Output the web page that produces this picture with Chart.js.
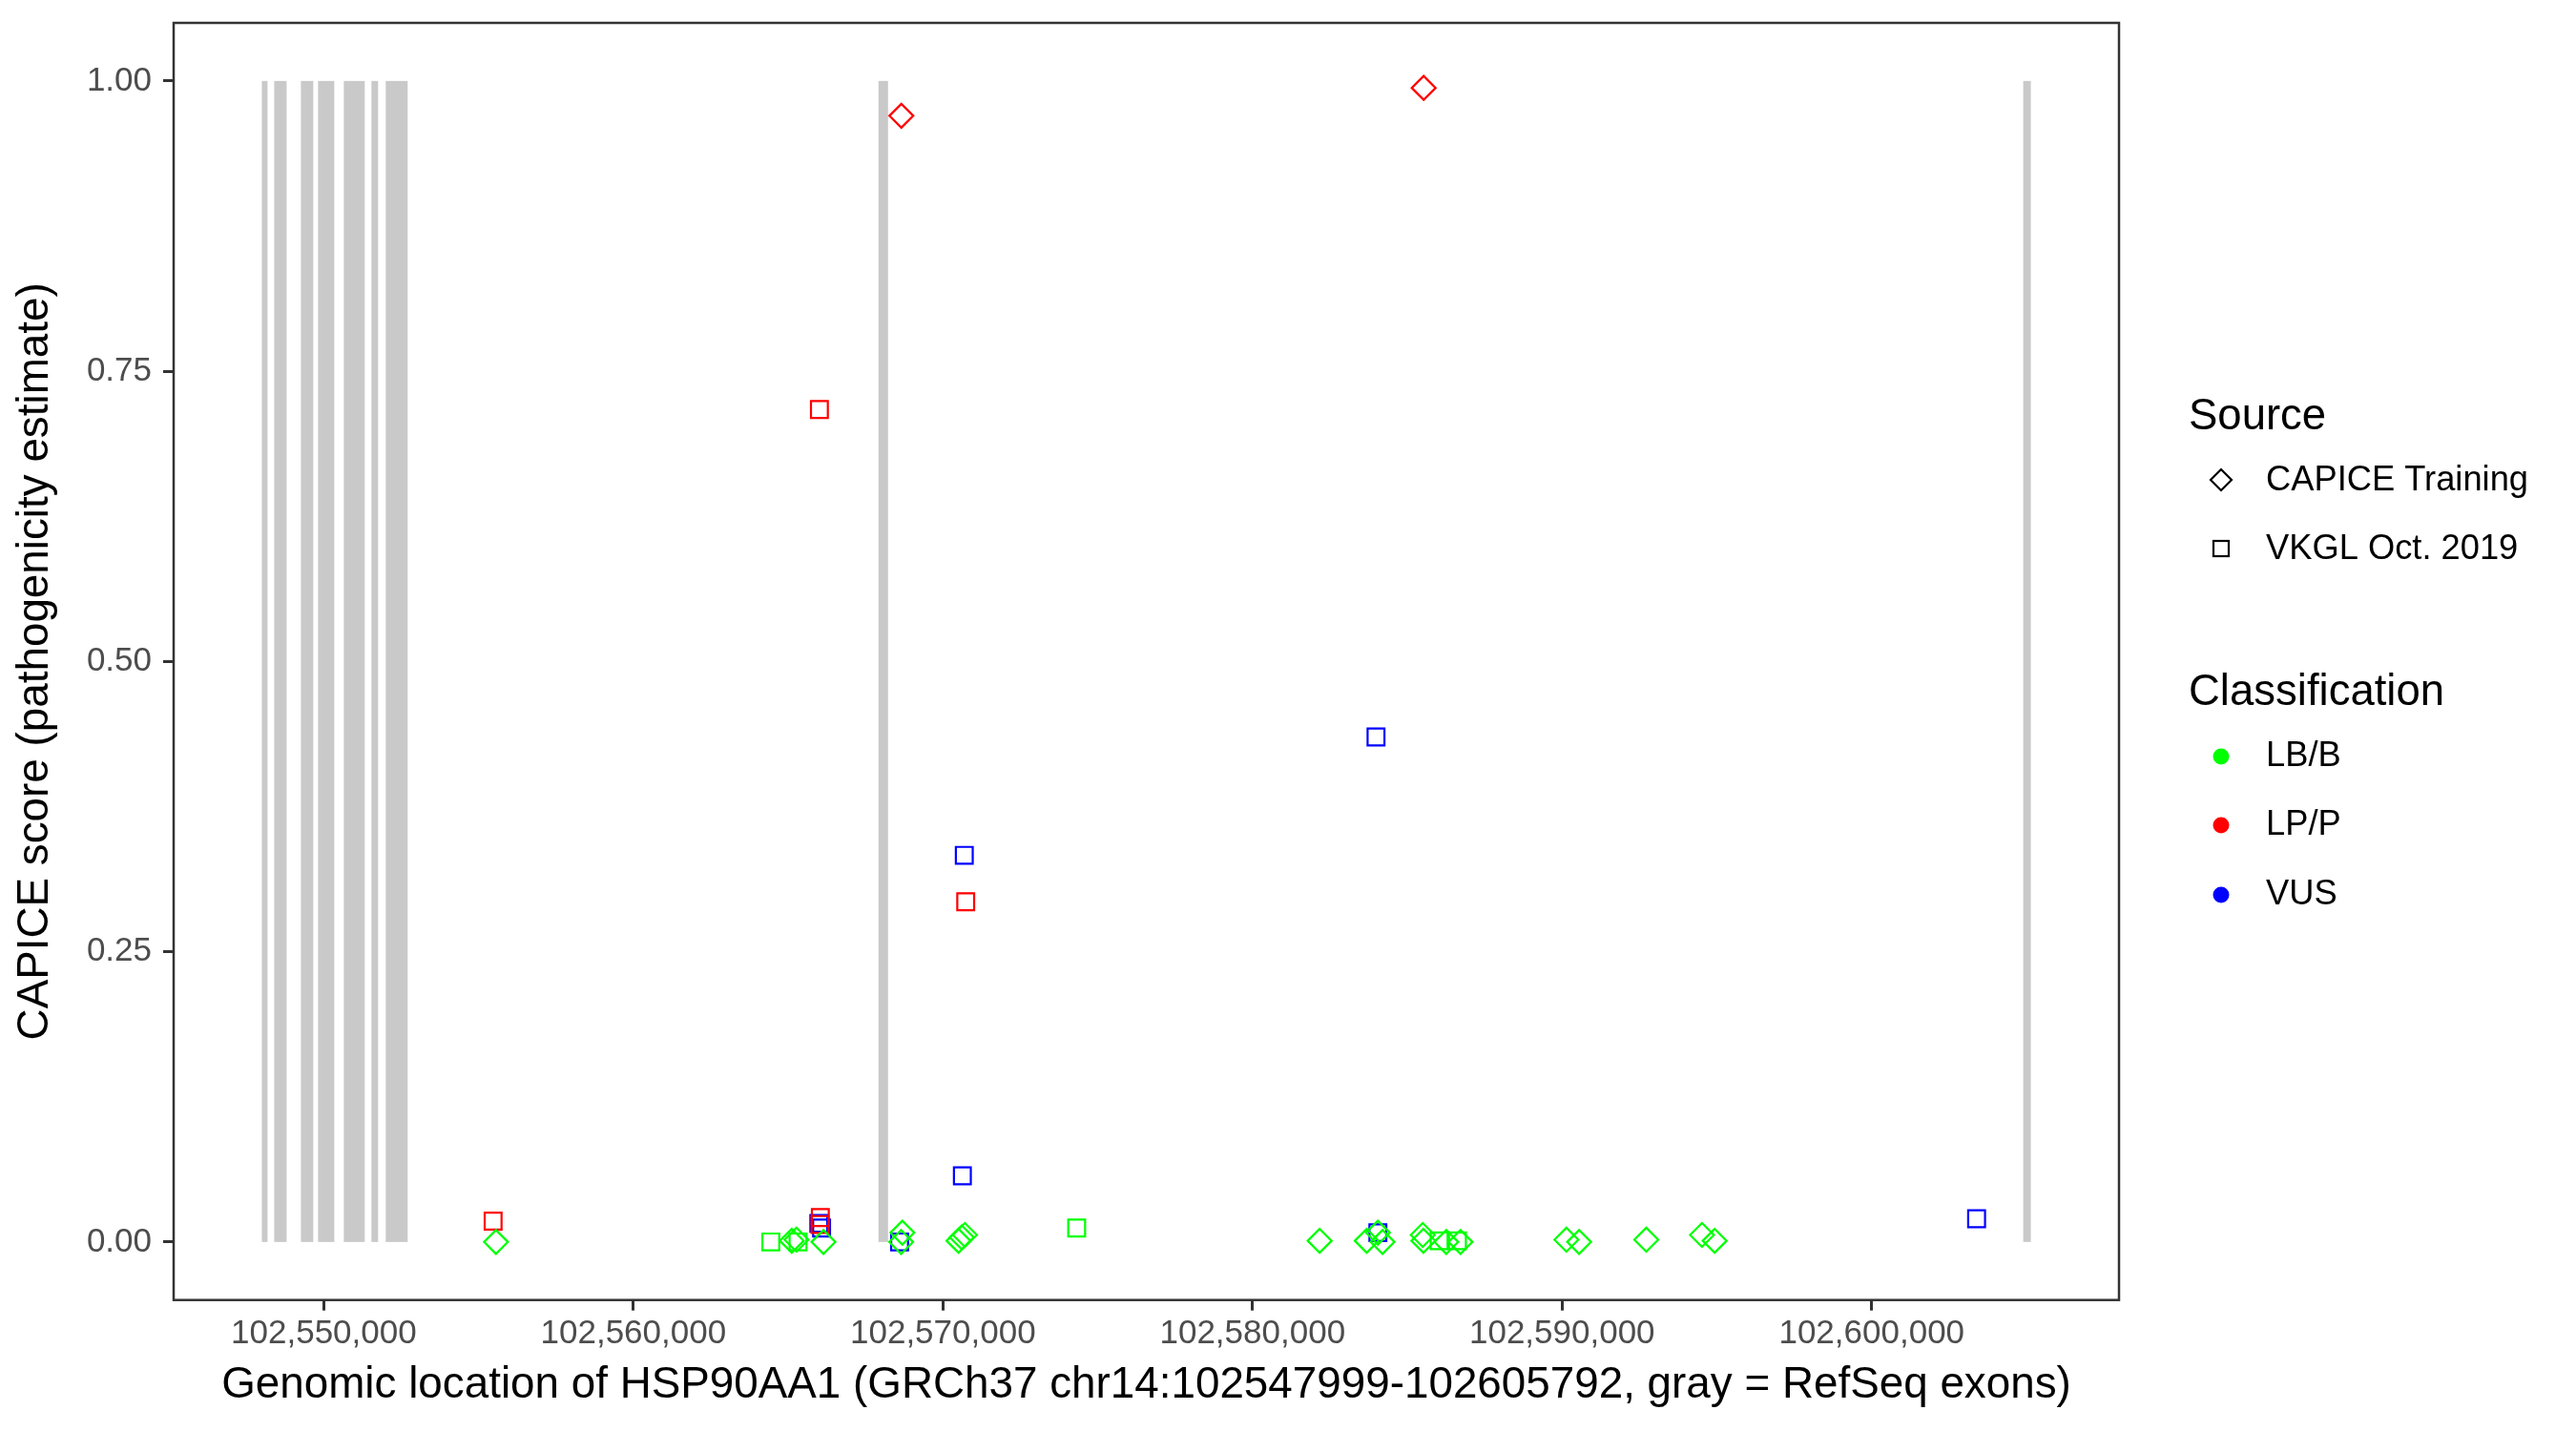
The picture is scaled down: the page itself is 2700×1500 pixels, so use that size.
<!DOCTYPE html>
<html>
<head>
<meta charset="utf-8">
<script src="https://cdn.jsdelivr.net/npm/chart.js@4.4.1/dist/chart.umd.min.js"></script>
<style>
  html, body { margin: 0; padding: 0; background: #fff; }
  #wrap { width: 2700px; height: 1500px; }
</style>
</head>
<body>
<div id="wrap"><canvas id="capiceChart" width="2700" height="1500"></canvas></div>
<script>
const ctxEl = document.getElementById("capiceChart");

// DATA

// RefSeq exons (gray bars)
const exonStarts = [102547999, 102548399, 102549261, 102549815, 102550647, 102551539, 102552001, 102567919, 102604896];
const exonEnds   = [102548183, 102548799, 102549661, 102550339, 102551324, 102551755, 102552709, 102568227, 102605142];

// variants: position, CAPICE score, source, classification
const variantPos = [
    102555470, 102555563, 102564440, 102565117, 102565270, 102565320, 102566140, 102566040,
    102566030, 102565990, 102566080, 102566010, 102568657, 102568690, 102568650, 102568600,
    102570505, 102570607, 102570711, 102570690, 102570736, 102570628, 102574320, 102582170,
    102583690, 102584050, 102584050, 102584200, 102583990, 102585530, 102585500, 102585520,
    102586030, 102586260, 102586620, 102586720, 102590140, 102590550, 102592720, 102594520,
    102594930, 102603390
];
const variantScore = [
    0.018, 0.000, 0.000, 0.001, 0.002, 0.000, 0.000, 0.021,
    0.015, 0.016, 0.012, 0.717, 0.970, 0.008, 0.000, 0.000,
    0.001, 0.004, 0.006, 0.333, 0.293, 0.057, 0.012, 0.001,
    0.001, 0.008, 0.008, 0.000, 0.435, 0.994, 0.006, 0.001,
    0.001, 0.000, 0.001, 0.000, 0.002, 0.000, 0.002, 0.006,
    0.001, 0.020
];
const variantSource = [
    'V', 'C', 'V', 'C', 'C', 'V', 'C', 'V',
    'V', 'V', 'V', 'V', 'C', 'C', 'C', 'V',
    'C', 'C', 'C', 'V', 'V', 'V', 'V', 'C',
    'C', 'V', 'C', 'C', 'V', 'C', 'C', 'C',
    'V', 'C', 'V', 'C', 'C', 'C', 'C', 'C',
    'C', 'V'
];
const variantClass = [
    'LP/P', 'LB/B', 'LB/B', 'LB/B', 'LB/B', 'LB/B', 'LB/B', 'LP/P',
    'LP/P', 'VUS', 'VUS', 'LP/P', 'LP/P', 'LB/B', 'LB/B', 'VUS',
    'LB/B', 'LB/B', 'LB/B', 'VUS', 'LP/P', 'VUS', 'LB/B', 'LB/B',
    'LB/B', 'VUS', 'LB/B', 'LB/B', 'VUS', 'LP/P', 'LB/B', 'LB/B',
    'LB/B', 'LB/B', 'LB/B', 'LB/B', 'LB/B', 'LB/B', 'LB/B', 'LB/B',
    'LB/B', 'VUS'
];

const sourceNames = { C: 'CAPICE Training', V: 'VKGL Oct. 2019' };
const sourceShapes = { C: 'rectRot', V: 'rect' };
const classNames = ['LB/B', 'LP/P', 'VUS'];
const classColors = { 'LB/B': '#00FF00', 'LP/P': '#FF0000', 'VUS': '#0000FF' };

const xTicks = [102550000, 102560000, 102570000, 102580000, 102590000, 102600000];
const yTicks = [0, 0.25, 0.5, 0.75, 1];

// one dataset per source x classification
const datasets = [];
['C', 'V'].forEach(src => {
    classNames.forEach(cls => {
        const pts = [];
        variantPos.forEach((p, i) => {
            if (variantSource[i] === src && variantClass[i] === cls) pts.push({ x: p, y: variantScore[i] });
        });
        if (!pts.length) return;
        datasets.push({
            label: sourceNames[src] + ' ' + cls,
            data: pts,
            pointStyle: sourceShapes[src],
            pointRadius: 12.5,
            pointBorderWidth: 2.2,
            borderColor: classColors[cls],
            backgroundColor: 'rgba(0,0,0,0)',
            pointBackgroundColor: 'rgba(0,0,0,0)',
        });
    });
});

const FONT = "'Liberation Sans', Arial, Helvetica, sans-serif";

// gray exon bars behind the points
const exonPlugin = {
    id: 'exons',
    beforeDatasetsDraw(chart) {
        const { ctx, scales: { x, y } } = chart;
        ctx.save();
        ctx.fillStyle = '#C9C9C9';
        const top = y.getPixelForValue(1);
        const bot = y.getPixelForValue(0);
        exonStarts.forEach((s, i) => {
            const x0 = x.getPixelForValue(s);
            const x1 = x.getPixelForValue(exonEnds[i]);
            ctx.fillRect(x0, top, Math.max(x1 - x0, 1), bot - top);
        });
        ctx.restore();
    }
};

// panel border + legend
const framePlugin = {
    id: 'frame',
    afterDraw(chart) {
        const { ctx, chartArea: a } = chart;
        ctx.save();
        ctx.strokeStyle = '#333333';
        ctx.lineWidth = 2.5;
        ctx.strokeRect(a.left, a.top, a.right - a.left, a.bottom - a.top);

        // legend
        const keyX = 2328, labelX = 2375;
        ctx.fillStyle = '#000';
        ctx.textBaseline = 'middle';
        ctx.textAlign = 'left';
        ctx.font = '45.5px ' + FONT;
        ctx.fillText('Source', 2294, 437);
        ctx.fillText('Classification', 2294, 726);

        ctx.font = '36.3px ' + FONT;
        ctx.fillText(sourceNames.C, labelX, 504);
        ctx.fillText(sourceNames.V, labelX, 576);
        const clsY = [793, 865, 938];
        classNames.forEach((c, i) => ctx.fillText(c, labelX, clsY[i]));

        ctx.strokeStyle = '#000';
        ctx.lineWidth = 2.2;
        // diamond
        ctx.beginPath();
        ctx.moveTo(keyX, 503 - 11);
        ctx.lineTo(keyX + 11, 503);
        ctx.lineTo(keyX, 503 + 11);
        ctx.lineTo(keyX - 11, 503);
        ctx.closePath();
        ctx.stroke();
        // square
        ctx.strokeRect(keyX - 8, 575 - 8, 16, 16);
        // colour dots
        classNames.forEach((c, i) => {
            ctx.fillStyle = classColors[c];
            ctx.beginPath();
            ctx.arc(keyX, clsY[i], 8.5, 0, Math.PI * 2);
            ctx.fill();
        });
        ctx.restore();
    }
};

let capiceChart = new Chart(ctxEl, {
    type: 'scatter',
    data: { datasets: datasets },
    options: {
        responsive: false,
        animation: false,
        events: [],
        layout: { padding: { left: 0, top: 24, right: 479, bottom: 0 } },
        plugins: { legend: { display: false }, tooltip: { enabled: false } },
        scales: {
            x: {
                type: 'linear',
                min: 102545150,
                max: 102607990,
                afterBuildTicks: s => { s.ticks = xTicks.map(v => ({ value: v })); },
                afterFit: s => { s.height = 137.3; s.paddingLeft = 0; s.paddingRight = 0; },
                border: { display: false },
                grid: { drawOnChartArea: false, drawTicks: true, tickLength: 11, tickWidth: 3, tickColor: '#333333' },
                ticks: {
                    padding: 4,
                    maxRotation: 0,
                    color: '#4D4D4D',
                    font: { family: FONT, size: 35 },
                    callback: v => v.toLocaleString('en-US')
                },
                title: {
                    display: true,
                    text: 'Genomic location of HSP90AA1 (GRCh37 chr14:102547999-102605792, gray = RefSeq exons)',
                    color: '#000',
                    font: { family: FONT, size: 45.8 },
                    padding: { top: 0, bottom: 20 }
                }
            },
            y: {
                min: -0.05,
                max: 1.05,
                afterBuildTicks: s => { s.ticks = yTicks.map(v => ({ value: v })); },
                afterFit: s => { s.width = 182; s.paddingTop = 0; s.paddingBottom = 0; },
                border: { display: false },
                grid: { drawOnChartArea: false, drawTicks: true, tickLength: 11, tickWidth: 3, tickColor: '#333333' },
                ticks: {
                    padding: 12,
                    color: '#4D4D4D',
                    font: { family: FONT, size: 35 },
                    callback: v => v.toFixed(2)
                },
                title: {
                    display: true,
                    text: 'CAPICE score (pathogenicity estimate)',
                    color: '#000',
                    font: { family: FONT, size: 45.8 },
                    padding: { top: 10, bottom: 0 }
                }
            }
        }
    },
    plugins: [exonPlugin, framePlugin]
});
</script>
</body>
</html>
